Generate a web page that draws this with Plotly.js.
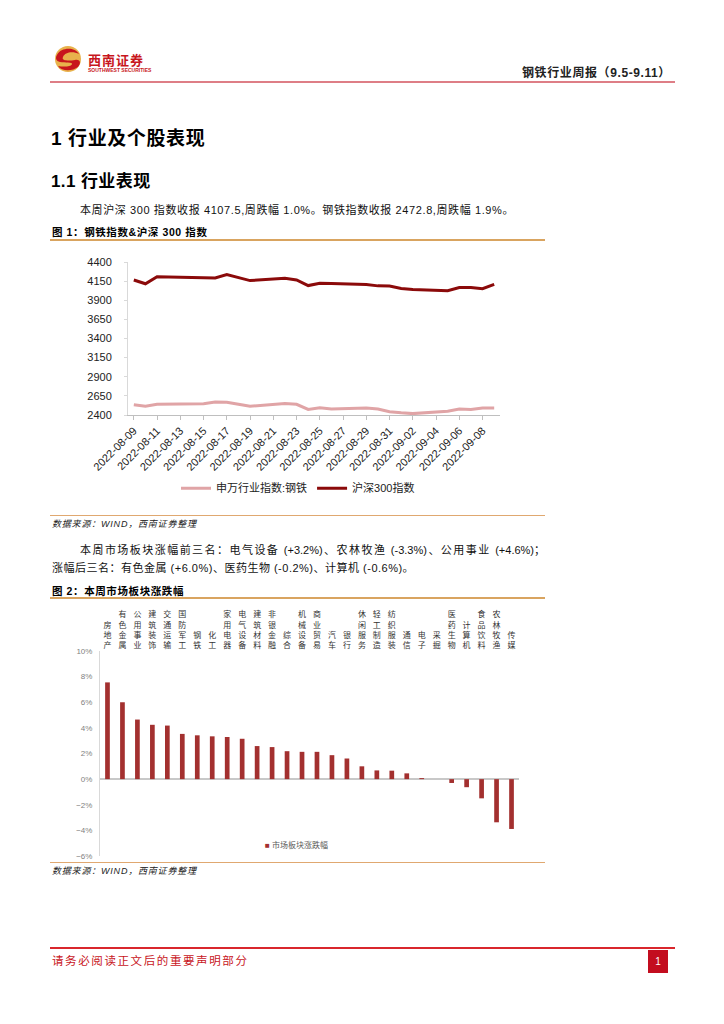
<!DOCTYPE html>
<html><head><meta charset="utf-8">
<script src="https://cdn.plot.ly/plotly-3.0.1.min.js"></script>
<style>
body{margin:0;background:#fff;width:724px;height:1024px;position:relative;overflow:hidden;font-family:"Liberation Sans","Noto Sans CJK SC",sans-serif;color:#000}
.abs{position:absolute;white-space:nowrap}
</style></head><body>

<svg class="abs" style="left:53px;top:44px" width="30" height="30" viewBox="0 0 30 30">
  <circle cx="15" cy="15" r="13" fill="#e8b24c"/>
  <path d="M4,11 C8,3 22,3 26,10 C20,7 12,8 10,13 C8,17 16,17 22,16 C28,15 28,20 25,23 C20,27 9,28 5,22 C10,23 18,23 19,20 C20,18 12,19 7,18 C3,17 2,14 4,11Z" fill="#c8161d"/>
</svg>
<div class="abs" style="left:88px;top:50px;font-size:13px;font-weight:bold;color:#c8161d;letter-spacing:1px">西南证券</div>
<div class="abs" style="left:88px;top:67px;font-size:5px;font-weight:bold;color:#c8161d">SOUTHWEST SECURITIES</div>
<div class="abs" style="left:522px;top:63px;font-size:12px;font-weight:bold;color:#222;letter-spacing:0.6px">钢铁行业周报（9.5-9.11）</div>
<div class="abs" style="left:50px;top:81px;width:625px;height:2px;background:#de7e86"></div>

<div class="abs" style="left:51px;top:123px;font-size:19px;font-weight:bold;letter-spacing:0.6px">1 行业及个股表现</div>
<div class="abs" style="left:51px;top:167px;font-size:17px;font-weight:bold;letter-spacing:0.4px">1.1 行业表现</div>
<div class="abs" style="left:80px;top:201px;font-size:11px;color:#111;letter-spacing:0.6px">本周沪深 300 指数收报 4107.5,周跌幅 1.0%。钢铁指数收报 2472.8,周跌幅 1.9%。</div>
<div class="abs" style="left:52px;top:224px;font-size:10.5px;font-weight:bold;letter-spacing:0.6px">图 1：钢铁指数&amp;沪深 300 指数</div>
<div class="abs" style="left:50px;top:239px;width:495px;height:1.5px;background:#d9a460"></div>

<div id="c1" class="abs" style="left:50px;top:245px;width:500px;height:270px"></div>

<div class="abs" style="left:50px;top:515px;width:495px;height:1px;background:#e0a870"></div>
<div class="abs" style="left:52px;top:517px;font-size:9px;font-style:italic;color:#222;letter-spacing:0.8px">数据来源：WIND，西南证券整理</div>

<div class="abs" style="left:80px;top:541px;width:465px;font-size:11px;color:#111;text-align:justify;text-align-last:justify">本周市场板块涨幅前三名：电气设备 (+3.2%)、农林牧渔 (-3.3%)、公用事业 (+4.6%)；</div>
<div class="abs" style="left:52px;top:559px;font-size:11px;color:#111;letter-spacing:0.5px">涨幅后三名：有色金属 (+6.0%)、医药生物 (-0.2%)、计算机 (-0.6%)。</div>
<div class="abs" style="left:52px;top:583px;font-size:10.5px;font-weight:bold;letter-spacing:0.6px">图 2：本周市场板块涨跌幅</div>
<div class="abs" style="left:50px;top:597px;width:495px;height:1.5px;background:#d9a460"></div>

<div id="c2" class="abs" style="left:50px;top:600px;width:500px;height:265px"></div>

<div class="abs" style="left:50px;top:862px;width:495px;height:1px;background:#e0a870"></div>
<div class="abs" style="left:52px;top:864px;font-size:9px;font-style:italic;color:#222;letter-spacing:0.8px">数据来源：WIND，西南证券整理</div>

<div class="abs" style="left:50px;top:947px;width:625px;height:1.5px;background:#d9262c"></div>
<div class="abs" style="left:52px;top:952px;font-size:11.5px;color:#c8161d;letter-spacing:1.6px">请务必阅读正文后的重要声明部分</div>
<div class="abs" style="left:648px;top:950px;width:20px;height:23px;background:#c30d1f;color:#fff;font-size:10px;text-align:center;line-height:23px">1</div>

<script>
// ---- Chart 1 data ----
const tradeDates = ['2022-08-09','2022-08-10','2022-08-11','2022-08-12','2022-08-15','2022-08-16','2022-08-17','2022-08-18','2022-08-19',
  '2022-08-22','2022-08-23','2022-08-24','2022-08-25','2022-08-26','2022-08-29','2022-08-30','2022-08-31',
  '2022-09-01','2022-09-02','2022-09-05','2022-09-06','2022-09-07','2022-09-08','2022-09-09'];
const steelIndex = [2535,2515,2540,2542,2548,2570,2568,2540,2515,2550,2540,2472,2495,2478,2490,2478,2442,2428,2418,2448,2478,2473,2492,2492];
const hs300Index = [4165,4115,4208,4205,4198,4192,4235,4195,4157,4187,4165,4092,4122,4118,4105,4088,4085,4055,4042,4025,4066,4066,4050,4107.5];
const seriesNames1 = ['申万行业指数:钢铁','沪深300指数'];

// ---- Chart 2 data ----
const sectors = ['房地产','有色金属','公用事业','建筑装饰','交通运输','国防军工','钢铁','化工','家用电器','电气设备','建筑材料','非银金融','综合','机械设备',
  '商业贸易','汽车','银行','休闲服务','轻工制造','纺织服装','通信','电子','采掘','医药生物','计算机','食品饮料','农林牧渔','传媒'];
const sectorChange = [7.55,6.0,4.65,4.24,4.18,3.53,3.42,3.34,3.29,3.15,2.58,2.5,2.18,2.13,2.13,1.87,1.61,1.0,0.68,0.66,0.45,0.08,0.0,-0.3,-0.63,-1.5,-3.37,-3.89];
const seriesName2 = '市场板块涨跌幅';

const FONT = '"Liberation Sans","Noto Sans CJK SC",sans-serif';

Plotly.newPlot('c1', [
  {x: tradeDates, y: steelIndex, type:'scatter', mode:'lines', name: seriesNames1[0], line:{color:'#e0a4a6', width:3}},
  {x: tradeDates, y: hs300Index, type:'scatter', mode:'lines', name: seriesNames1[1], line:{color:'#8b0a0a', width:3}}
], {
  width:500, height:270, margin:{l:78, r:50, t:17, b:94},
  paper_bgcolor:'rgba(0,0,0,0)', plot_bgcolor:'rgba(0,0,0,0)',
  font:{family:FONT, size:11, color:'#222'},
  showlegend:true,
  legend:{orientation:'h', x:0.457, xanchor:'center', y:-0.478, yanchor:'middle', font:{size:11, color:'#222'}, itemwidth:30},
  xaxis:{type:'date', range:['2022-08-08 12:00','2022-09-09 12:00'], tick0:'2022-08-09', dtick:2*86400000, tickformat:'%Y-%m-%d',
    tickangle:-45, showline:true, linecolor:'#bfbfbf', ticks:'outside', ticklen:4, tickcolor:'#bfbfbf', showgrid:false, zeroline:false,
    tickfont:{size:11, color:'#222'}},
  yaxis:{range:[2400,4400], tick0:2400, dtick:250, showline:true, linecolor:'#d9d9d9', ticks:'outside', ticklen:3, tickcolor:'#d9d9d9',
    showgrid:false, zeroline:false, ticklabelstandoff:10, tickfont:{size:11, color:'#222'}}
}, {staticPlot:true});

Plotly.newPlot('c2', [
  {x: sectors, y: sectorChange, type:'bar', name: seriesName2, marker:{color:'#a3302f'}, showlegend:false}
], {
  width:500, height:265, margin:{l:50, r:31, t:51, b:9},
  paper_bgcolor:'rgba(0,0,0,0)', plot_bgcolor:'rgba(0,0,0,0)',
  font:{family:FONT, size:8, color:'#595959'},
  bargap:0.686,
  xaxis:{type:'category', side:'top', tickvals: sectors, ticktext: sectors.map(s => s.split('').join('<br>')),
    tickfont:{size:8, color:'#333'}, showline:false, ticks:'', showgrid:false, zeroline:false, tickangle:0},
  yaxis:{range:[-6,10], dtick:2, ticksuffix:'%', showline:true, linecolor:'#d9d9d9', linewidth:1, zeroline:true,
    zerolinecolor:'#c8c8c8', zerolinewidth:2, showgrid:false, tickfont:{size:8, color:'#7f7f7f'}, ticklabelstandoff:5},
  annotations:[{xref:'paper', yref:'paper', x:0.39, y:0.054, xanchor:'left', yanchor:'middle', showarrow:false,
    text:'<span style="color:#a3302f">■</span> ' + seriesName2, font:{size:8, color:'#595959'}}]
}, {staticPlot:true});
</script>
</body></html>
